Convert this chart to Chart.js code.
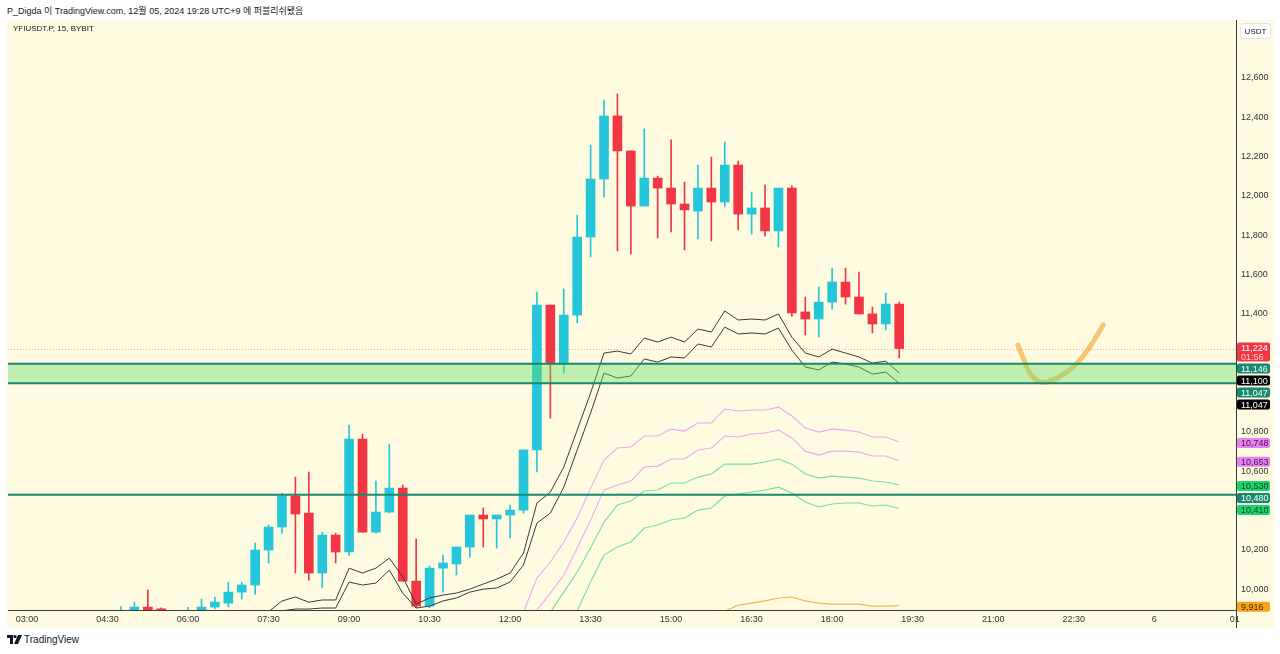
<!DOCTYPE html>
<html>
<head>
<meta charset="utf-8">
<script src="https://cdn.jsdelivr.net/npm/chart.js@4.4.1/dist/chart.umd.min.js"></script>
<style>
  body { margin: 0; width: 1280px; height: 654px; overflow: hidden; background: #ffffff;
         font-family: "Liberation Sans", "Noto Sans CJK KR", sans-serif; }
  #hdr { position: absolute; left: 7px; top: 4px; font-size: 9px; color: #131722; white-space: nowrap; }
  #panel { position: absolute; left: 7px; top: 20px; width: 1267px; height: 608px; background: #fefbe1; }
  #wrap { position: absolute; left: 1px; top: 0; width: 1266px; height: 608px; }
  #sym { position: absolute; left: 6px; top: 4px; font-size: 8px; color: #131722; z-index: 2; }
  #foot { position: absolute; left: 7px; top: 634px; font-size: 10px; color: #131722; display: flex; align-items: center; gap: 2px; }
</style>
</head>
<body>
<div id="hdr">P_Digda 이 TradingView.com, 12월 05, 2024 19:28 UTC+9 에 퍼블리쉬됐음</div>
<div id="panel">
  <div id="sym">YFIUSDT.P, 15, BYBIT</div>
  <div id="wrap"><canvas id="chart"></canvas></div>
</div>
<div id="foot">
  <svg width="15" height="9" viewBox="0 0 15 9"><path d="M0 0h6v9H3V3H0z" fill="#131722"/><circle cx="8" cy="1.6" r="1.6" fill="#131722"/><path d="M11 0h4l-4 9H7z" fill="#131722"/></svg>
  <span>TradingView</span>
</div>
<script>
// 15-minute slots counted from 03:00
const xTickIdx = [0, 6, 12, 18, 24, 30, 36, 42, 48, 54, 60, 66, 72, 78, 84, 90];
const xTickLabels = ["03:00", "04:30", "06:00", "07:30", "09:00", "10:30", "12:00", "13:30",
  "15:00", "16:30", "18:00", "19:30", "21:00", "22:30", "6", "01"];
const yTicks = [10000, 10200, 10600, 10800, 11400, 11600, 11800, 12000, 12200, 12400, 12600];

const candleX = [7, 8, 9, 10, 12, 13, 14, 15, 16, 17, 18, 19, 20, 21, 22, 23, 24, 25, 26, 27, 28, 29,
  30, 31, 32, 33, 34, 35, 36, 37, 38, 39, 40, 41, 42, 43, 44, 45, 46, 47, 48, 49, 50, 51, 52, 53,
  54, 55, 56, 57, 58, 59, 60, 61, 62, 63, 64, 65];
const opens = [9860, 9885, 9909, 9900, 9860, 9885, 9909, 9929, 9985, 10021, 10199, 10316, 10474, 10387,
  10082, 10275, 10189, 10764, 10290, 10392, 10514, 10041, 9914, 10107, 10128, 10214, 10377, 10357,
  10377, 10402, 10708, 11445, 11145, 11394, 11791, 12086, 12407, 12229, 11949, 12091, 12040, 11959,
  11923, 12040, 11969, 12157, 11908, 11939, 11822, 12040, 11410, 11374, 11460, 11562, 11486, 11400,
  11349, 11450];
const highs = [9912, 9934, 9996, 9905, 9908, 9950, 9960, 10036, 10036, 10235, 10326, 10489, 10570, 10596,
  10290, 10285, 10835, 10789, 10550, 10738, 10530, 10255, 10118, 10173, 10214, 10377, 10413, 10377,
  10428, 10708, 11511, 11445, 11527, 11903, 12259, 12488, 12519, 12229, 12341, 12101, 12285, 12071,
  12157, 12198, 12274, 12178, 12020, 12056, 12040, 12051, 11486, 11537, 11633, 11633, 11613, 11435,
  11506, 11460];
const lows = [9820, 9860, 9870, 9870, 9840, 9860, 9900, 9909, 9950, 9975, 10133, 10285, 10082, 10046,
  10006, 10133, 10173, 10290, 10285, 10388, 10041, 9905, 9905, 9985, 10072, 10163, 10214, 10209,
  10260, 10387, 10596, 10870, 11099, 11354, 11689, 11995, 11720, 11705, 11949, 11786, 11817, 11725,
  11781, 11771, 11944, 11827, 11806, 11796, 11740, 11389, 11293, 11282, 11425, 11450, 11400, 11303,
  11318, 11176];
const closes = [9870, 9909, 9888, 9895, 9870, 9909, 9934, 9985, 10021, 10199, 10316, 10474, 10382, 10082,
  10275, 10189, 10764, 10290, 10392, 10514, 10041, 9914, 10107, 10133, 10214, 10377, 10357, 10377,
  10402, 10708, 11445, 11145, 11394, 11791, 12086, 12407, 12229, 11949, 12091, 12040, 11959, 11929,
  12040, 11969, 12157, 11908, 11939, 11822, 12040, 11405, 11374, 11460, 11562, 11486, 11400, 11349,
  11450, 11224];

// indicator lines: first slot + values
const blackUpStart = 18;
const blackUp = [9885, 9940, 9960, 9934, 9945, 9945, 10107, 10082, 10107, 10158, 10062, 9924, 9955, 9970,
  9980, 10000, 10026, 10051, 10082, 10184, 10438, 10494, 10621, 10809, 10998, 11201, 11211, 11196,
  11277, 11257, 11282, 11257, 11323, 11308, 11415, 11369, 11374, 11369, 11400, 11282, 11201, 11181,
  11221, 11201, 11181, 11150, 11160, 11100];
const blackLoStart = 19;
const blackLo = [9890, 9899, 9899, 9904, 9904, 10036, 10021, 10031, 10097, 9980, 9904, 9914, 9940, 9955,
  9985, 10000, 10006, 10036, 10123, 10336, 10387, 10519, 10708, 10896, 11099, 11074, 11084, 11171,
  11155, 11181, 11176, 11247, 11232, 11333, 11298, 11303, 11298, 11328, 11216, 11130, 11115, 11155,
  11145, 11130, 11094, 11104, 11047];
const pinkUpStart = 37;
const pinkUp = [9883, 10056, 10138, 10240, 10362, 10514, 10657, 10718, 10723, 10779, 10779, 10814, 10804,
  10845, 10845, 10916, 10906, 10911, 10911, 10926, 10881, 10820, 10799, 10814, 10809, 10799, 10774,
  10774, 10748];
const pinkLoStart = 38;
const pinkLo = [9895, 9980, 10072, 10209, 10352, 10504, 10530, 10550, 10621, 10626, 10662, 10662, 10708,
  10718, 10779, 10774, 10789, 10794, 10809, 10769, 10702, 10682, 10702, 10702, 10697, 10677, 10677,
  10653];
const greenUpStart = 39;
const greenUp = [9883, 9985, 10087, 10209, 10341, 10428, 10448, 10499, 10504, 10540, 10540, 10570, 10586,
  10636, 10636, 10636, 10647, 10662, 10636, 10586, 10565, 10575, 10570, 10565, 10550, 10545, 10530];
const greenLoStart = 41;
const greenLo = [9890, 10036, 10173, 10214, 10240, 10311, 10326, 10352, 10362, 10402, 10413, 10474, 10484,
  10494, 10504, 10519, 10489, 10443, 10418, 10433, 10438, 10438, 10423, 10428, 10410];
const orangeStart = 52;
const orange = [9888, 9919, 9929, 9940, 9955, 9960, 9940, 9929, 9924, 9924, 9924, 9914, 9914, 9916];

// hand drawn mark
const sketchX = [73.85, 74.3, 74.7, 75.5, 76.6, 78.1, 79.2, 80.2];
const sketchY = [11242, 11166, 11104, 11054, 11069, 11140, 11232, 11344];

const zoneTop = 11146;
const zoneBottom = 11047;
const supportLine = 10480;
const lastPrice = 11224;
const lastTime = "01:56";

const tagVals = [11224, 11146, 11100, 11047, 11047, 10748, 10653, 10530, 10480, 10410, 9916];
const tagBg = ["#f23645", "#168a70", "#000000", "#168a70", "#000000", "#e283ef", "#e283ef",
  "#19d46f", "#168a70", "#19d46f", "#f7a21b"];
const tagFg = ["#ffffff", "#ffffff", "#ffffff", "#ffffff", "#ffffff", "#4a1450", "#4a1450",
  "#0d3d20", "#ffffff", "#0d3d20", "#4a2a00"];

const upColor = "#26c6da";
const downColor = "#f23645";
const candleColors = candleX.map((x, k) => (closes[k] >= opens[k] ? upColor : downColor));

function series(start, vals) {
  return vals.map((v, k) => ({ x: start + k, y: v }));
}
function fmt(v) {
  return v.toLocaleString("en-US");
}

const overlay = {
  id: "overlay",
  beforeDatasetsDraw(chart) {
    const { ctx, chartArea, scales } = chart;
    const yy = Math.round(scales.y.getPixelForValue(lastPrice)) + 0.5;
    ctx.save();
    ctx.strokeStyle = "rgba(242, 54, 69, 0.45)";
    ctx.lineWidth = 1;
    ctx.setLineDash([1, 2]);
    ctx.beginPath();
    ctx.moveTo(chartArea.left, yy);
    ctx.lineTo(chartArea.right, yy);
    ctx.stroke();
    ctx.restore();
  },
  afterDatasetsDraw(chart) {
    const { ctx, chartArea, scales } = chart;
    const y = scales.y;
    const t = y.getPixelForValue(zoneTop);
    const b = y.getPixelForValue(zoneBottom);
    ctx.save();
    ctx.fillStyle = "rgba(100, 220, 100, 0.4)";
    ctx.fillRect(chartArea.left, t, chartArea.right - chartArea.left, b - t);
    ctx.strokeStyle = "#18896f";
    ctx.lineWidth = 2;
    [t, b, y.getPixelForValue(supportLine)].forEach((p) => {
      ctx.beginPath();
      ctx.moveTo(chartArea.left, p);
      ctx.lineTo(chartArea.right, p);
      ctx.stroke();
    });
    ctx.restore();
  },
  afterDraw(chart) {
    const { ctx, chartArea, scales } = chart;
    const y = scales.y;
    const H = chart.height;
    ctx.save();
    // axis lines
    ctx.strokeStyle = "#3b3b3b";
    ctx.lineWidth = 1;
    ctx.beginPath();
    ctx.moveTo(chartArea.right + 0.5, 0);
    ctx.lineTo(chartArea.right + 0.5, H);
    ctx.moveTo(0, chartArea.bottom + 0.5);
    ctx.lineTo(chartArea.right, chartArea.bottom + 0.5);
    ctx.stroke();

    // price tags
    ctx.font = '9px "Liberation Sans", sans-serif';
    ctx.textBaseline = "middle";
    ctx.textAlign = "left";
    const bx = chartArea.right + 1;
    const bw = 33;
    let prevBottom = -1000;
    tagVals.forEach((v, k) => {
      const pix = y.getPixelForValue(v);
      const h = k === 0 ? 19 : 10;
      let top = k === 0 ? pix - 6 : pix - 4;
      if (top < prevBottom + 2) top = prevBottom + 2;
      prevBottom = top + h;
      ctx.fillStyle = tagBg[k];
      ctx.beginPath();
      ctx.roundRect(bx, top, bw, h, 2);
      ctx.fill();
      ctx.fillStyle = tagFg[k];
      ctx.fillText(fmt(v), bx + 4, top + 5.5);
      if (k === 0) {
        ctx.fillStyle = "#ffd0d4";
        ctx.fillText(lastTime, bx + 4, top + 14.5);
      }
    });

    // currency box
    ctx.fillStyle = "#ffffff";
    ctx.strokeStyle = "#e0e3eb";
    ctx.beginPath();
    ctx.roundRect(chartArea.right + 4.5, 3.5, 30, 15, 3);
    ctx.fill();
    ctx.stroke();
    ctx.fillStyle = "#131722";
    ctx.textAlign = "center";
    ctx.font = '8px "Liberation Sans", sans-serif';
    ctx.fillText("USDT", chartArea.right + 19.5, 11.5);
    ctx.restore();
  }
};

new Chart(document.getElementById("chart"), {
  type: "bar",
  data: {
    datasets: [
      {
        type: "line",
        data: sketchX.map((x, k) => ({ x: x, y: sketchY[k] })),
        borderColor: "rgba(245, 178, 80, 0.75)",
        borderWidth: 5,
        borderCapStyle: "round",
        pointRadius: 0,
        tension: 0.4,
        order: -1
      },
      { type: "line", data: series(blackUpStart, blackUp), borderColor: "#3a3a3a", borderWidth: 1, pointRadius: 0, order: 0 },
      { type: "line", data: series(blackLoStart, blackLo), borderColor: "#3a3a3a", borderWidth: 1, pointRadius: 0, order: 0 },
      { type: "line", data: series(pinkUpStart, pinkUp), borderColor: "#eaaaf0", borderWidth: 1.1, pointRadius: 0, order: 0 },
      { type: "line", data: series(pinkLoStart, pinkLo), borderColor: "#eaaaf0", borderWidth: 1.1, pointRadius: 0, order: 0 },
      { type: "line", data: series(greenUpStart, greenUp), borderColor: "#74e09e", borderWidth: 1.1, pointRadius: 0, order: 0 },
      { type: "line", data: series(greenLoStart, greenLo), borderColor: "#74e09e", borderWidth: 1.1, pointRadius: 0, order: 0 },
      { type: "line", data: series(orangeStart, orange), borderColor: "#f5b553", borderWidth: 1.2, pointRadius: 0, order: 0 },
      {
        data: candleX.map((x, k) => ({ x: x, y: [opens[k], closes[k]] })),
        backgroundColor: candleColors,
        barThickness: 9,
        minBarLength: 1,
        grouped: false,
        order: 1
      },
      {
        data: candleX.map((x, k) => ({ x: x, y: [lows[k], highs[k]] })),
        backgroundColor: candleColors,
        barThickness: 1,
        grouped: false,
        order: 2
      }
    ]
  },
  options: {
    responsive: true,
    maintainAspectRatio: false,
    animation: false,
    layout: { padding: 0 },
    plugins: { legend: { display: false }, tooltip: { enabled: false } },
    scales: {
      x: {
        type: "linear",
        min: -1.42,
        max: 90.1,
        offset: false,
        grid: { display: false, drawTicks: false },
        border: { display: false },
        ticks: {
          color: "#333333",
          font: { size: 9, family: '"Liberation Sans", sans-serif' },
          padding: 4,
          maxRotation: 0,
          autoSkip: false,
          callback: (v, i) => xTickLabels[i]
        },
        afterBuildTicks: (s) => { s.ticks = xTickIdx.map((v) => ({ value: v })); },
        afterFit: (s) => { s.height = 18; s.paddingLeft = 0; s.paddingRight = 0; }
      },
      y: {
        position: "right",
        min: 9894,
        max: 12895,
        grid: { display: false, drawTicks: false },
        border: { display: false },
        ticks: {
          color: "#333333",
          font: { size: 9, family: '"Liberation Sans", sans-serif' },
          padding: 5,
          callback: (v) => fmt(v)
        },
        afterBuildTicks: (s) => { s.ticks = yTicks.map((v) => ({ value: v })); },
        afterFit: (s) => { s.width = 38; s.paddingTop = 0; s.paddingBottom = 0; }
      }
    }
  },
  plugins: [overlay]
});
</script>
</body>
</html>
